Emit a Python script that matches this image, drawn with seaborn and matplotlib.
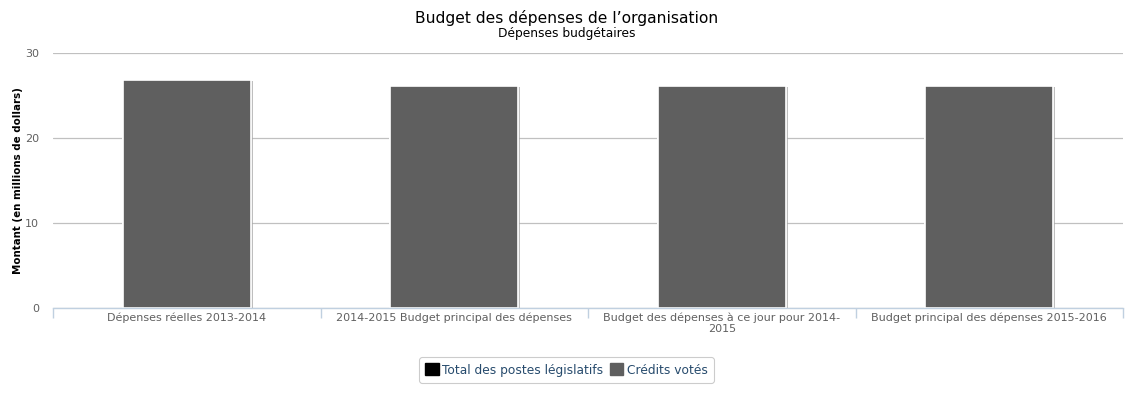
import matplotlib
matplotlib.use("Agg")
import matplotlib.pyplot as plt
import matplotlib.patheffects as pe
from matplotlib.patches import Patch
import numpy as np
import pandas as pd
import seaborn as sns

categories = [
    "Dépenses réelles 2013-2014",
    "2014-2015 Budget principal des dépenses",
    "Budget des dépenses à ce jour pour 2014-\n2015",
    "Budget principal des dépenses 2015-2016",
]
legislatifs = [0.0, 0.0, 0.0, 0.0]
credits_votes = [26.8, 26.1, 26.1, 26.1]

COL_LEGIS = "#000000"
COL_VOTES = "#5f5f5f"

sns.set_theme(style="white")
plt.rcParams["font.family"] = ["DejaVu Sans"]

df = pd.DataFrame({
    "categorie": categories,
    "legislatifs": legislatifs,
    "votes": credits_votes,
})
df["total"] = df["legislatifs"] + df["votes"]

fig = plt.figure(figsize=(11.33, 3.93), dpi=100)
ax = fig.add_axes([53 / 1133, 1 - 308 / 393, 1070 / 1133, 255 / 393])

shadow = [pe.SimplePatchShadow(offset=(1.2, -0.3), shadow_rgbFace="#aaaaaa", alpha=0.5), pe.Normal()]

# stacked: legislative on top of voted credits (drawn as total first)
sns.barplot(data=df, x="categorie", y="total", color=COL_LEGIS, saturation=1,
            width=0.48, edgecolor="white", linewidth=1.2, ax=ax)
sns.barplot(data=df, x="categorie", y="votes", color=COL_VOTES, saturation=1,
            width=0.48, edgecolor="white", linewidth=1.2, ax=ax)
for p in ax.patches:
    p.set_path_effects(shadow)

ax.set_ylim(0, 30)
ax.set_xlim(-0.5, len(categories) - 0.5)
ax.set_yticks([0, 10, 20, 30])
ax.yaxis.grid(True, color="#c0c0c0", linewidth=0.9)
ax.set_axisbelow(True)
for side in ["top", "right", "left"]:
    ax.spines[side].set_visible(False)
ax.spines["bottom"].set_color("#c0d0e0")
ax.spines["bottom"].set_linewidth(1)

ax.tick_params(axis="y", length=0, labelsize=8, labelcolor="#606060", pad=10)
ax.tick_params(axis="x", length=0, labelsize=8, labelcolor="#606060", pad=3)
ax.set_xticks(np.arange(-0.5, len(categories)), minor=True)
ax.tick_params(axis="x", which="minor", bottom=True, length=7, width=1,
               color="#c0d0e0", direction="out")
ax.set_xlabel("")
ax.set_ylabel("Montant (en millions de dollars)", fontsize=7.4, fontweight="bold",
              color="#000000")
ax.yaxis.set_label_coords(-30 / 1070, 0.5)

fig.text(0.5, 1 - 18 / 393, "Budget des dépenses de l’organisation", ha="center",
         va="center", fontsize=11.2, color="#000000")
fig.text(0.5, 1 - 34 / 393, "Dépenses budgétaires", ha="center", va="center",
         fontsize=8.8, color="#000000")

handles = [Patch(facecolor=COL_LEGIS, edgecolor=COL_LEGIS),
           Patch(facecolor=COL_VOTES, edgecolor=COL_VOTES)]
leg = fig.legend(handles, ["Total des postes législatifs", "Crédits votés"],
                 loc="center", bbox_to_anchor=(0.5, 1 - 370 / 393), ncol=2,
                 fontsize=8.8, frameon=True, fancybox=True, handlelength=1.1,
                 handleheight=1.1, handletextpad=0.3, columnspacing=0.5,
                 borderpad=0.5)
leg.get_frame().set_edgecolor("#c0c0c0")
leg.get_frame().set_linewidth(0.8)
for t in leg.get_texts():
    t.set_color("#274b6d")

fig.savefig("out.png", dpi=100)
